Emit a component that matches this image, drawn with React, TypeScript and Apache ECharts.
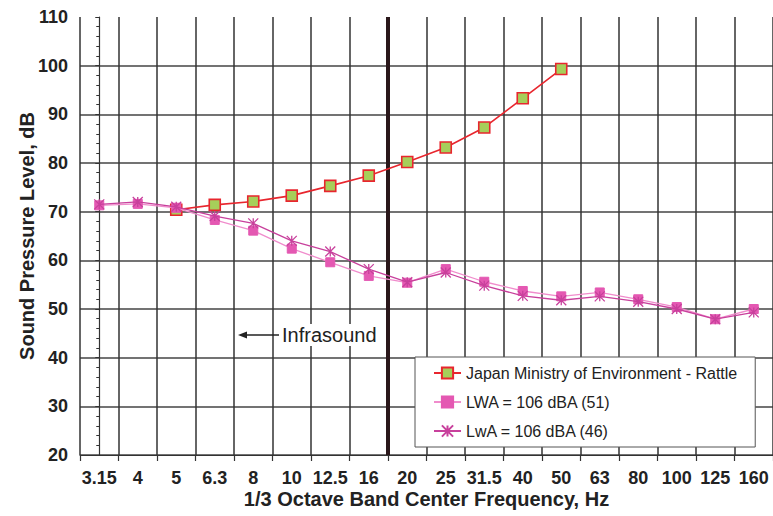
import React, { useEffect, useRef } from "react";
import * as echarts from "echarts";

const categories = ["3.15", "4", "5", "6.3", "8", "10", "12.5", "16", "20", "25", "31.5", "40", "50", "63", "80", "100", "125", "160"];
const japanRattle = [null, null, 70.4, 71.4, 72.1, 73.3, 75.3, 77.4, 80.2, 83.2, 87.3, 93.3, 99.3, null, null, null, null, null];
const lwa51 = [71.3, 71.6, 70.8, 68.3, 66.1, 62.4, 59.6, 56.8, 55.4, 58.2, 55.6, 53.7, 52.6, 53.4, 52.0, 50.4, 47.9, 50.0];
const lwa46 = [71.5, 72.0, 71.0, 69.1, 67.6, 64.0, 61.8, 58.2, 55.5, 57.5, 54.8, 52.7, 51.8, 52.6, 51.5, 50.0, 47.9, 49.3];
// boundary between 16 Hz and 20 Hz bands (category index space)
const infrasoundBoundary = [[7.5, 20], [7.5, 110]];

const seriesNames = ["Japan Ministry of Environment - Rattle", "LWA = 106 dBA (51)", "LwA = 106 dBA (46)"];

const FONT = 'Arial, "Liberation Sans", sans-serif';
const NARROW = '"Liberation Sans Narrow", "Arial Narrow", Arial, "Liberation Sans", sans-serif';
const ASTER = "path://M0,0L10,10M10,0L0,10M5,0L5,10";

export default function App() {
  const ref = useRef<HTMLDivElement>(null);
  useEffect(() => {
    const chart = echarts.init(ref.current!, undefined, { renderer: "svg" });
    chart.setOption({
      animation: false,
      backgroundColor: "#fff",
      textStyle: { fontFamily: FONT },
      grid: { left: 80, right: -8, top: 17, bottom: 61, containLabel: false },
      legend: {
        data: seriesNames,
        orient: "vertical",
        left: 415,
        top: 357,
        padding: [8, 18, 8, 18],
        itemGap: 13,
        itemWidth: 27,
        itemHeight: 14,
        borderColor: "#555",
        borderWidth: 1,
        backgroundColor: "#fff",
        textStyle: { fontSize: 16, color: "#222", fontFamily: FONT },
      },
      xAxis: [
        {
          type: "category",
          data: categories,
          boundaryGap: true,
          name: "1/3 Octave Band Center Frequency, Hz",
          nameLocation: "middle",
          nameGap: 34,
          nameMoveOverlap: false,
          nameTextStyle: { fontSize: 20, fontWeight: "bold", color: "#222", fontFamily: FONT },
          axisLine: { lineStyle: { color: "#333", width: 1.2 } },
          axisTick: { show: true, length: 6, lineStyle: { color: "#333", width: 1.2 } },
          axisLabel: { fontSize: 18, fontWeight: "bold", color: "#222", margin: 14, fontFamily: NARROW, interval: 0 },
          splitLine: { show: true, interval: 0, lineStyle: { color: "#333", width: 1.5 } },
        },
        {
          type: "value",
          min: -0.5,
          max: 17.5,
          show: false,
        },
      ],
      yAxis: {
        type: "value",
        min: 20,
        max: 110,
        interval: 10,
        name: "Sound Pressure Level, dB",
        nameLocation: "middle",
        nameGap: 43,
        nameMoveOverlap: false,
        nameTextStyle: { fontSize: 20, fontWeight: "bold", color: "#222", fontFamily: FONT },
        axisLine: { show: true, lineStyle: { color: "#333", width: 1.2 } },
        axisTick: { show: true, length: 4, lineStyle: { color: "#333", width: 1 } },
        minorTick: { show: true, splitNumber: 5, length: 3, lineStyle: { color: "#333", width: 1 } },
        axisLabel: { fontSize: 18, fontWeight: "bold", color: "#222", margin: 12, fontFamily: NARROW },
        splitLine: { show: true, showMaxLine: false, lineStyle: { color: "#444", width: 1.5 } },
      },
      series: [
        {
          name: "boundary",
          type: "line",
          xAxisIndex: 1,
          data: infrasoundBoundary,
          symbol: "none",
          silent: true,
          lineStyle: { color: "#2a171a", width: 4 },
          z: 3,
        },
        {
          name: seriesNames[0],
          type: "line",
          data: japanRattle,
          symbol: "rect",
          symbolSize: 11,
          connectNulls: false,
          lineStyle: { color: "#e8262e", width: 1.6 },
          itemStyle: { color: "#a6cf5a", borderColor: "#e8262e", borderWidth: 1.6 },
          z: 4,
        },
        {
          name: seriesNames[1],
          type: "line",
          data: lwa51,
          symbol: "rect",
          symbolSize: 9,
          lineStyle: { color: "#f08ccc", width: 1.3 },
          itemStyle: { color: "#e458b2", borderColor: "#e458b2", borderWidth: 1 },
          z: 5,
        },
        {
          name: seriesNames[2],
          type: "line",
          data: lwa46,
          symbol: ASTER,
          symbolSize: 10,
          lineStyle: { color: "#c8409c", width: 1.3 },
          itemStyle: { color: "#c8409c", borderColor: "#c8409c", borderWidth: 1.3 },
          z: 6,
        },
      ],
      graphic: [
        {
          type: "text",
          left: 280,
          top: 324,
          z: 10,
          style: {
            text: "Infrasound",
            font: '20px Arial, "Liberation Sans", sans-serif',
            fill: "#222",
            backgroundColor: "#fff",
            padding: [1, 3, 1, 2],
          },
        },
        {
          type: "line",
          z: 10,
          shape: { x1: 246, y1: 335, x2: 279, y2: 335 },
          style: { stroke: "#222", lineWidth: 1.3 },
        },
        {
          type: "polygon",
          z: 10,
          shape: { points: [[238, 335], [247, 331.5], [247, 338.5]] },
          style: { fill: "#222" },
        },
      ],
    });
    return () => chart.dispose();
  }, []);
  return <div ref={ref} style={{ position: "absolute", left: 0, top: 0, width: 773, height: 516 }} />;
}
